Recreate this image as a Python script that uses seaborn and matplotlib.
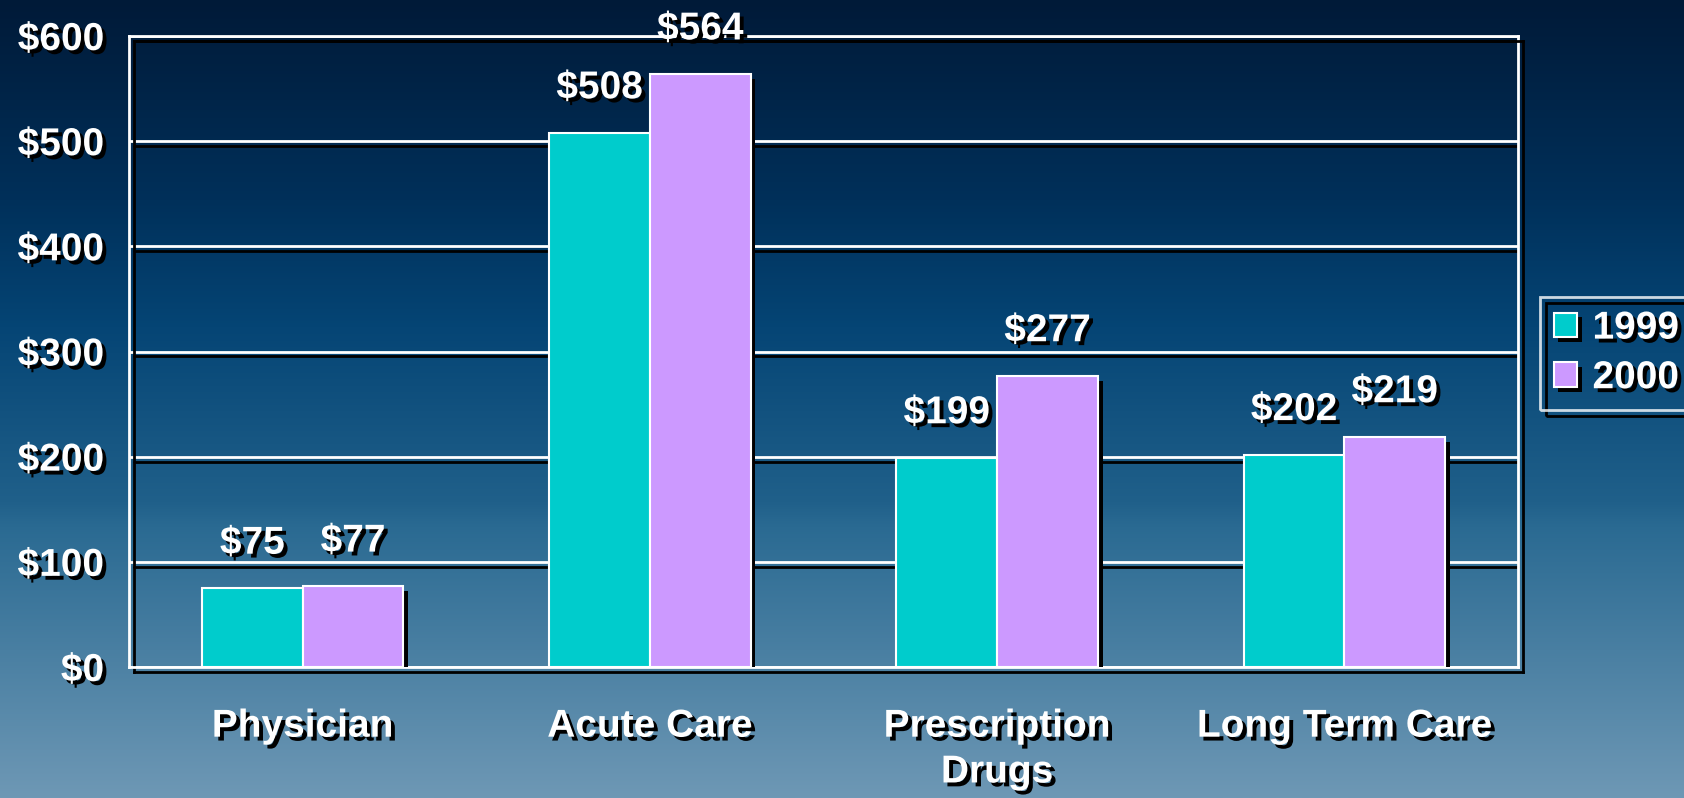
import numpy as np
import pandas as pd
import matplotlib
matplotlib.use("Agg")
import matplotlib.pyplot as plt
import matplotlib.patheffects as pe
from matplotlib.patches import Patch
from matplotlib.ticker import FixedLocator
import seaborn as sns

# 数据
categories = ['Physician', 'Acute Care', 'Prescription\nDrugs', 'Long Term Care']
years = ['1999', '2000']
spend_1999 = [75, 508, 199, 202]
spend_2000 = [77, 564, 277, 219]
y_ticks = [0, 100, 200, 300, 400, 500, 600]

df = pd.DataFrame({
    'Category': categories * 2,
    'Year': [years[0]] * 4 + [years[1]] * 4,
    'Spend': spend_1999 + spend_2000,
})

palette = {'1999': '#00CCCC', '2000': '#CC99FF'}
FS = 28

sns.set_style("white")
plt.rcParams['font.family'] = ['Liberation Sans', 'DejaVu Sans']
plt.rcParams['font.weight'] = 'bold'

text_shadow = [pe.withSimplePatchShadow(offset=(2.8, -2.8), shadow_rgbFace='black', alpha=1.0)]
line_shadow = [pe.SimpleLineShadow(offset=(3.5, -3.5), shadow_color='black', alpha=1.0), pe.Normal()]
bar_shadow = [pe.withSimplePatchShadow(offset=(3.5, -3.5), shadow_rgbFace='black', alpha=1.0)]

fig = plt.figure(figsize=(16.84, 7.98), dpi=100)

# 渐变背景
stops_y = [0.0, 0.25, 0.41, 0.63, 0.66, 1.0]
stops_c = np.array([(0, 26, 56), (0, 48, 90), (5, 69, 117), (32, 96, 138), (42, 106, 146), (110, 152, 181)]) / 255.0
yy = np.linspace(0, 1, 400)
grad = np.stack([np.interp(yy, stops_y, stops_c[:, i]) for i in range(3)], axis=-1)
grad = grad[:, None, :]
bg = fig.add_axes([0, 0, 1, 1], zorder=-10)
bg.imshow(grad, aspect='auto', extent=[0, 1, 0, 1], origin='upper')
bg.axis('off')

ax = fig.add_axes([129 / 1684, 131 / 798, (1518 - 129) / 1684, (667 - 36) / 798])
ax.set_facecolor('none')

sns.barplot(data=df, x='Category', y='Spend', hue='Year', palette=palette,
            width=0.58, edgecolor='white', linewidth=1.5, saturation=1,
            legend=False, ax=ax, zorder=3)

for bar in ax.patches:
    bar.set_path_effects(bar_shadow)

# 数值标签
for cont in ax.containers:
    for bar in cont:
        h = bar.get_height()
        t = ax.annotate(f"${h:.0f}", (bar.get_x() + bar.get_width() / 2, h),
                        xytext=(0, 32), textcoords='offset points',
                        ha='center', va='center', fontsize=FS, fontweight='bold',
                        color='white', zorder=5)
        t.set_path_effects(text_shadow)

ax.set_ylim(0, 600)
ax.set_xlim(-0.5, 3.5)
ax.yaxis.set_major_locator(FixedLocator(y_ticks))
ax.set_yticklabels([f"${v}" for v in y_ticks])
ax.set_xlabel('')
ax.set_ylabel('')

ax.grid(axis='y', color='white', linewidth=2, zorder=1)
ax.set_axisbelow(True)
for gl in ax.get_ygridlines():
    gl.set_path_effects(line_shadow)

for side in ['left', 'bottom', 'right', 'top']:
    ax.spines[side].set_visible(True)
    ax.spines[side].set_color('white')
    ax.spines[side].set_linewidth(2)
    ax.spines[side].set_path_effects(line_shadow)

ax.xaxis.set_minor_locator(FixedLocator([-0.5, 0.5, 1.5, 2.5, 3.5]))
ax.tick_params(axis='x', which='major', length=0, pad=30, labelsize=FS, labelcolor='white')
ax.tick_params(axis='x', which='minor', length=10, width=2, color='white', direction='out')
ax.tick_params(axis='y', which='major', length=8, width=2, color='white', direction='out',
               pad=10, labelsize=FS, labelcolor='white')

for lab in ax.get_xticklabels():
    lab.set_fontweight('bold')
    lab.set_linespacing(1.35)
    lab.set_path_effects(text_shadow)
for lab in ax.get_yticklabels():
    lab.set_fontweight('bold')
    lab.set_path_effects(text_shadow)
for tl in ax.xaxis.get_minorticklines() + ax.yaxis.get_majorticklines():
    tl.set_path_effects(line_shadow)

# 图例
handles = [Patch(facecolor=palette[y], edgecolor='white', linewidth=1.5, label=y) for y in years]
leg = fig.legend(handles=handles, loc='upper left', bbox_to_anchor=(1540 / 1684, 501 / 798),
                 borderaxespad=0, fontsize=FS, frameon=True, fancybox=False,
                 handlelength=0.6, handleheight=0.6, handletextpad=0.4,
                 labelspacing=0.35, borderpad=0.35)
frame = leg.get_frame()
frame.set_facecolor('none')
frame.set_edgecolor('white')
frame.set_linewidth(2)
frame.set_path_effects([pe.SimpleLineShadow(offset=(4.5, -4.5), shadow_color='black', alpha=1.0), pe.Normal()])
for txt in leg.get_texts():
    txt.set_color('white')
    txt.set_fontweight('bold')
    txt.set_path_effects(text_shadow)
for h in leg.legend_handles:
    h.set_path_effects(bar_shadow)

fig.savefig("out.png", dpi=100)
